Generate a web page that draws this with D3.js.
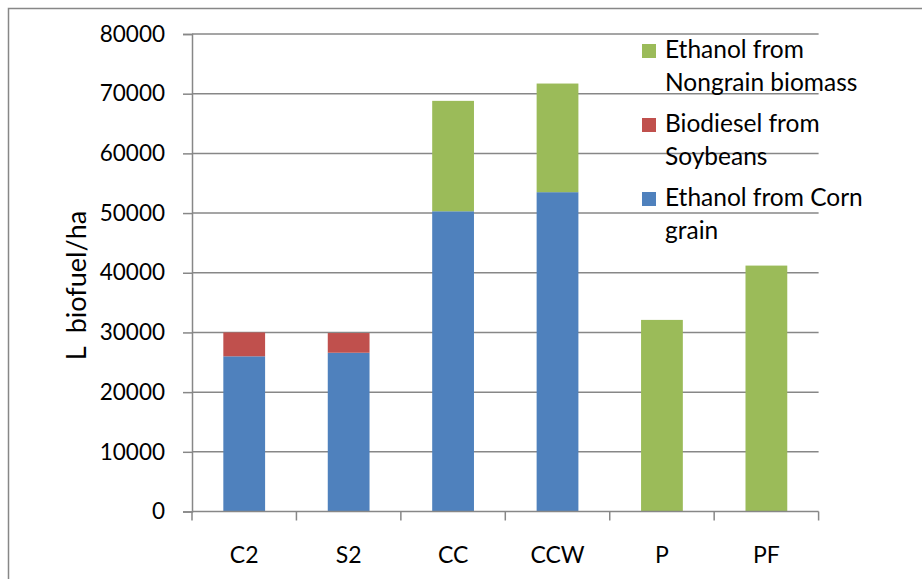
<!DOCTYPE html>
<html>
<head>
<meta charset="utf-8">
<script src="https://cdn.jsdelivr.net/npm/d3@7/dist/d3.min.js"></script>
<style>
  html, body { margin: 0; padding: 0; background: #fff; }
  svg { display: block; font-family: Lato, "Open Sans", sans-serif; }
</style>
</head>
<body>
<svg id="chart" width="922" height="579"></svg>
<script>
const categories = ["C2", "S2", "CC", "CCW", "P", "PF"];
const cornEthanol = [26000, 26600, 50300, 53500, 0, 0];
const soyBiodiesel = [4000, 3300, 0, 0, 0, 0];
const nongrainEthanol = [0, 0, 18500, 18200, 32100, 41200];
const yTicks = [0, 10000, 20000, 30000, 40000, 50000, 60000, 70000, 80000];
const seriesNames = ["Ethanol from Corn grain", "Biodiesel from Soybeans", "Ethanol from Nongrain biomass"];
const legendLines = [["Ethanol from", "Nongrain biomass"], ["Biodiesel from", "Soybeans"], ["Ethanol from Corn", "grain"]];
const colors = ["#4F81BD", "#C0504D", "#9BBB59"];
const yTitle = "L  biofuel/ha";

(function () {
const svg = d3.select("#chart");
const pLeft = 192, pRight = 818.6, pTop = 34, pBottom = 511.5;
const gridColor = "#878787";

// outer border
svg.append("rect").attr("x", 8.5).attr("y", 8.5).attr("width", 930).attr("height", 600)
  .attr("fill", "none").attr("stroke", gridColor).attr("stroke-width", 1.5);

const x = d3.scaleBand().domain(categories).range([pLeft, pRight]).paddingInner(0.6).paddingOuter(0.3);
const y = d3.scaleLinear().domain([0, 80000]).range([pBottom, pTop]);

const rows = categories.map((c, i) => ({cat: c, s0: cornEthanol[i], s1: soyBiodiesel[i], s2: nongrainEthanol[i]}));
const layers = d3.stack().keys(["s0", "s1", "s2"])(rows);

// gridlines
svg.append("g").selectAll("line").data(yTicks.filter(d => d > 0)).join("line")
  .attr("x1", pLeft).attr("x2", pRight)
  .attr("y1", d => y(d)).attr("y2", d => y(d))
  .attr("stroke", gridColor).attr("stroke-width", 1.5);

// y axis
const yAxis = svg.append("g").attr("transform", `translate(${pLeft},0)`)
  .call(d3.axisLeft(y).tickValues(yTicks).tickFormat(d3.format("d")).tickSize(9).tickPadding(18));
yAxis.select(".domain").attr("stroke", gridColor).attr("stroke-width", 1.5);
yAxis.selectAll(".tick line").attr("stroke", gridColor).attr("stroke-width", 1.5);
yAxis.selectAll(".tick text").attr("font-size", 22.5).attr("font-family", "Lato").attr("fill", "#000");

// bars
svg.append("g").selectAll("g").data(layers).join("g")
  .attr("fill", (d, i) => colors[i])
  .selectAll("rect").data(d => d.filter(p => p[1] - p[0] > 0)).join("rect")
  .attr("x", d => x(d.data.cat))
  .attr("width", x.bandwidth())
  .attr("y", d => y(d[1]))
  .attr("height", d => y(d[0]) - y(d[1]));

// x axis
const boundaries = d3.range(categories.length + 1).map(i => pLeft + i * (pRight - pLeft) / categories.length);
svg.append("line").attr("x1", pLeft).attr("x2", pRight).attr("y1", pBottom).attr("y2", pBottom)
  .attr("stroke", gridColor).attr("stroke-width", 1.5);
svg.append("g").selectAll("line").data(boundaries).join("line")
  .attr("x1", d => d).attr("x2", d => d).attr("y1", pBottom).attr("y2", pBottom + 9)
  .attr("stroke", gridColor).attr("stroke-width", 1.5);
svg.append("g").selectAll("text").data(categories).join("text")
  .attr("x", d => x(d) + x.bandwidth() / 2).attr("y", 563)
  .attr("text-anchor", "middle").attr("font-size", 23).attr("fill", "#000")
  .text(d => d);

// y title
svg.append("text").attr("transform", "translate(86,285.5) rotate(-90)")
  .attr("text-anchor", "middle").attr("font-size", 27).attr("fill", "#000")
  .style("white-space", "pre")
  .text(yTitle);

// legend (top entry = last series)
const legendOrder = [2, 1, 0];
const lg = svg.append("g");
legendOrder.forEach((si, k) => {
  const baseY = 58 + k * 74;
  lg.append("rect").attr("x", 642).attr("y", baseY - 14).attr("width", 14).attr("height", 14)
    .attr("fill", colors[si]);
  const t = lg.append("text").attr("x", 665).attr("y", baseY).attr("font-size", 24.5).attr("fill", "#000");
  legendLines[k].forEach((line, j) => {
    t.append("tspan").attr("x", 665).attr("y", baseY + j * 33).text(line);
  });
});
})();
</script>
</body>
</html>
